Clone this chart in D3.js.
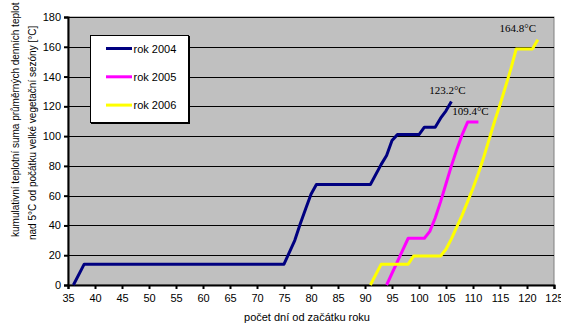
<!DOCTYPE html>
<html><head><meta charset="utf-8">
<script src="https://cdn.jsdelivr.net/npm/d3@7"></script>
<style>body{margin:0;background:#fff}svg{display:block}</style>
</head><body>
<svg id="c" width="561" height="328"></svg>
<script>
const xTicks = [35,40,45,50,55,60,65,70,75,80,85,90,95,100,105,110,115,120,125];
const yTicks = [0,20,40,60,80,100,120,140,160,180];
const seriesNames = ["rok 2004","rok 2005","rok 2006"];
const seriesColors = ["#000080","#ff00ff","#ffff00"];
const days2004 = [36,38,75,77,78,79,80,81,91,93,94,95,96,100,101,103,104,105,106];
const vals2004 = [0,14,14,30,41,51,61,67.5,67.5,81,87,97,101,101,106,106,112,117,123.2];
const days2005 = [94,98,101,102,103,104,105,106,107,108,109,111];
const vals2005 = [0,31.4,31.4,36,45,56,68,80,91,101,109.4,109.4];
const days2006 = [91,93,98,99,104,105,106,107,108,109,110,111,112,113,114,115,116,117,118,121,122];
const vals2006 = [0,14,14,19.5,19.5,24,31,39,47,56,65,75,86,98,110,121,133,145,158.5,158.5,164.8];
const endLabels = ["123.2°C","109.4°C","164.8°C"];
const xTitle = "počet dní od začátku roku";
const yTitle1 = "kumulativní teplotní suma průměrných denních teplot";
const yTitle2 = "nad 5°C od počátku velké vegetační sezóny [°C]";

const svg = d3.select("#c");
const L=68, R=554, T=17, B=285;
const x = d3.scaleLinear().domain([35,125]).range([L,R]);
const y = d3.scaleLinear().domain([0,180]).range([B,T]);
const font = "Arial, 'Liberation Sans', sans-serif";

svg.append("rect").attr("x",L).attr("y",T).attr("width",R-L).attr("height",B-T)
  .attr("fill","#c0c0c0").attr("stroke","#808080").attr("stroke-width",1);

svg.append("g").selectAll("line").data(yTicks.filter(d=>d>0)).join("line")
  .attr("x1",L).attr("x2",R).attr("y1",d=>Math.round(y(d))+0.5).attr("y2",d=>Math.round(y(d))+0.5)
  .attr("stroke","#000").attr("stroke-width",1);

// y axis
const ya = svg.append("g").attr("transform",`translate(${L},0)`)
  .call(d3.axisLeft(y).tickValues(yTicks).tickSize(4).tickPadding(3));
ya.select(".domain").attr("stroke","#000").attr("stroke-width",2);
ya.selectAll(".tick line").attr("stroke","#000").attr("stroke-width",2);
ya.selectAll("text").attr("font-family",font).attr("font-size","11px").attr("fill","#000");

// x axis
const xa = svg.append("g").attr("transform",`translate(0,${B})`)
  .call(d3.axisBottom(x).tickValues(xTicks).tickSize(4).tickPadding(5));
xa.select(".domain").attr("stroke","#000").attr("stroke-width",2);
xa.selectAll(".tick line").attr("stroke","#000").attr("stroke-width",2);
xa.selectAll("text").attr("font-family",font).attr("font-size","11px").attr("fill","#000");

const series = [
  days2004.map((d,i)=>[d,vals2004[i]]),
  days2005.map((d,i)=>[d,vals2005[i]]),
  days2006.map((d,i)=>[d,vals2006[i]])
];
const line = d3.line().x(d=>x(d[0])).y(d=>y(d[1]));
svg.append("g").selectAll("path").data(series).join("path")
  .attr("d",line).attr("fill","none")
  .attr("stroke",(d,i)=>seriesColors[i]).attr("stroke-width",3)
  .attr("stroke-linejoin","round");

// end labels
const labOff = [[-4,-8],[-8,-7],[-20,-8]];
svg.append("g").selectAll("text").data(series).join("text")
  .attr("x",(d,i)=>x(d[d.length-1][0])+labOff[i][0])
  .attr("y",(d,i)=>y(d[d.length-1][1])+labOff[i][1])
  .attr("text-anchor","middle")
  .attr("font-family","'Liberation Serif','Times New Roman',serif").attr("font-size","11px")
  .attr("fill","#000").text((d,i)=>endLabels[i]);

// legend
const lg = svg.append("g");
lg.append("rect").attr("x",91).attr("y",36).attr("width",99).attr("height",88).attr("fill","#000");
lg.append("rect").attr("x",90.5).attr("y",35.5).attr("width",98).attr("height",87)
  .attr("fill","#fff").attr("stroke","#000").attr("stroke-width",1);
seriesNames.forEach((n,i)=>{
  const yy = 48.5 + i*28.3;
  lg.append("line").attr("x1",106).attr("x2",132).attr("y1",yy).attr("y2",yy)
    .attr("stroke",seriesColors[i]).attr("stroke-width",3);
  lg.append("text").attr("x",133.5).attr("y",yy+4).attr("font-family",font)
    .attr("font-size","11px").attr("fill","#000").text(n);
});

// titles
svg.append("text").attr("x",307).attr("y",321).attr("text-anchor","middle")
  .attr("font-family",font).attr("font-size","11px").attr("fill","#000").text(xTitle);
svg.append("text").attr("transform","translate(19,237) rotate(-90)")
  .attr("font-family",font).attr("font-size","10px").attr("fill","#000").text(yTitle1);
svg.append("text").attr("transform","translate(36,240) rotate(-90)")
  .attr("font-family",font).attr("font-size","10px").attr("fill","#000").text(yTitle2);
</script>
</body></html>
